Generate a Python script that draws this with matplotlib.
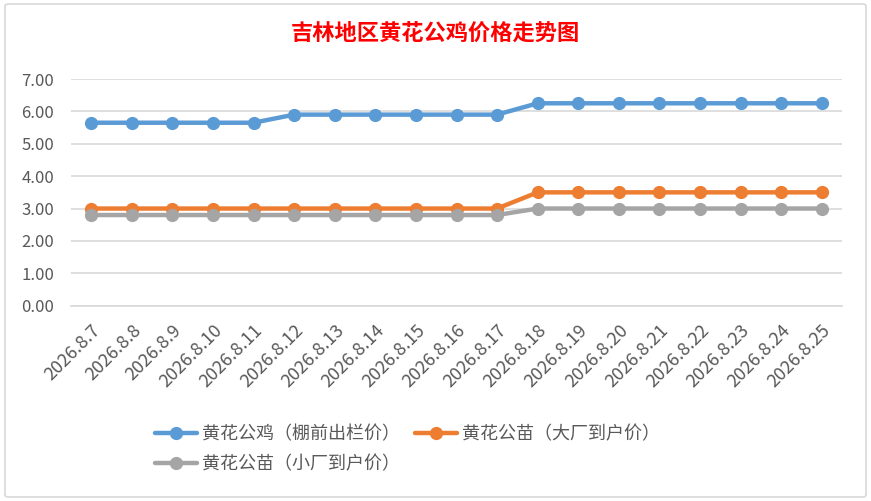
import matplotlib
matplotlib.use("Agg")
import matplotlib.pyplot as plt
from matplotlib.patches import FancyBboxPatch

plt.rcParams['font.family'] = ['Noto Sans CJK SC', 'DejaVu Sans']

dates = ["2026.8.7", "2026.8.8", "2026.8.9", "2026.8.10", "2026.8.11", "2026.8.12",
         "2026.8.13", "2026.8.14", "2026.8.15", "2026.8.16", "2026.8.17", "2026.8.18",
         "2026.8.19", "2026.8.20", "2026.8.21", "2026.8.22", "2026.8.23", "2026.8.24",
         "2026.8.25"]
rooster = [5.65, 5.65, 5.65, 5.65, 5.65, 5.9, 5.9, 5.9, 5.9, 5.9, 5.9,
           6.25, 6.25, 6.25, 6.25, 6.25, 6.25, 6.25, 6.25]
chick_big = [3.0, 3.0, 3.0, 3.0, 3.0, 3.0, 3.0, 3.0, 3.0, 3.0, 3.0,
             3.5, 3.5, 3.5, 3.5, 3.5, 3.5, 3.5, 3.5]
chick_small = [2.8, 2.8, 2.8, 2.8, 2.8, 2.8, 2.8, 2.8, 2.8, 2.8, 2.8,
               3.0, 3.0, 3.0, 3.0, 3.0, 3.0, 3.0, 3.0]
names = ["黄花公鸡（棚前出栏价）", "黄花公苗（大厂到户价）", "黄花公苗（小厂到户价）"]
colors = ["#5B9BD5", "#ED7D31", "#A5A5A5"]
yticks = [0, 1, 2, 3, 4, 5, 6, 7]

W, H = 871, 501
fig = plt.figure(figsize=(W / 100, H / 100), dpi=100)
fig.patch.set_facecolor("white")

# chart border
border = FancyBboxPatch((5 / W, 4 / H), 861 / W, 493 / H,
                        boxstyle="round,pad=0,rounding_size=0.004",
                        transform=fig.transFigure, fill=False,
                        edgecolor="#D9D9D9", linewidth=1.2)
fig.patches.append(border)

ax = fig.add_axes([71 / W, 1 - 305.7 / H, (842 - 71) / W, (305.7 - 79) / H])
x = list(range(len(dates)))
handles = []
for vals, c, n in zip([rooster, chick_big, chick_small], colors, names):
    h, = ax.plot(x, vals, color=c, linewidth=3.2, marker="o", markersize=8.5,
                 label=n, solid_capstyle="round", zorder=3)
    handles.append(h)

ax.set_xlim(-0.5, len(dates) - 0.5)
ax.set_ylim(0, 7)
ax.set_yticks(yticks)
ax.set_yticklabels([f"{v:.2f}" for v in yticks])
ax.set_xticks(x)
ax.set_xticklabels(dates, rotation=45, ha="right", rotation_mode="anchor")
ax.grid(axis="y", color="#D9D9D9", linewidth=1.2)
ax.set_axisbelow(True)
for s in ["top", "right", "left"]:
    ax.spines[s].set_visible(False)
ax.spines["bottom"].set_color("#D9D9D9")
ax.spines["bottom"].set_linewidth(1.2)
ax.tick_params(axis="both", length=0, colors="#595959", labelsize=12)
ax.tick_params(axis="x", labelsize=13, pad=11)
ax.tick_params(axis="y", pad=12)

fig.text(435 / W, 1 - 33 / H, "吉林地区黄花公鸡价格走势图", color="#FF0000",
         fontsize=16, ha="center", va="center", fontweight="bold")

leg = fig.legend([handles[0], handles[2], handles[1]],
                 [names[0], names[2], names[1]], ncol=2,
                 loc="upper left", bbox_to_anchor=(155 / W, 1 - 425 / H),
                 frameon=False, fontsize=13, handlelength=2.3,
                 columnspacing=0.85, labelspacing=0.7, handletextpad=0.3,
                 borderpad=0, borderaxespad=0,
                 labelcolor="#595959")

fig.savefig("out.png", dpi=100, facecolor="white")
